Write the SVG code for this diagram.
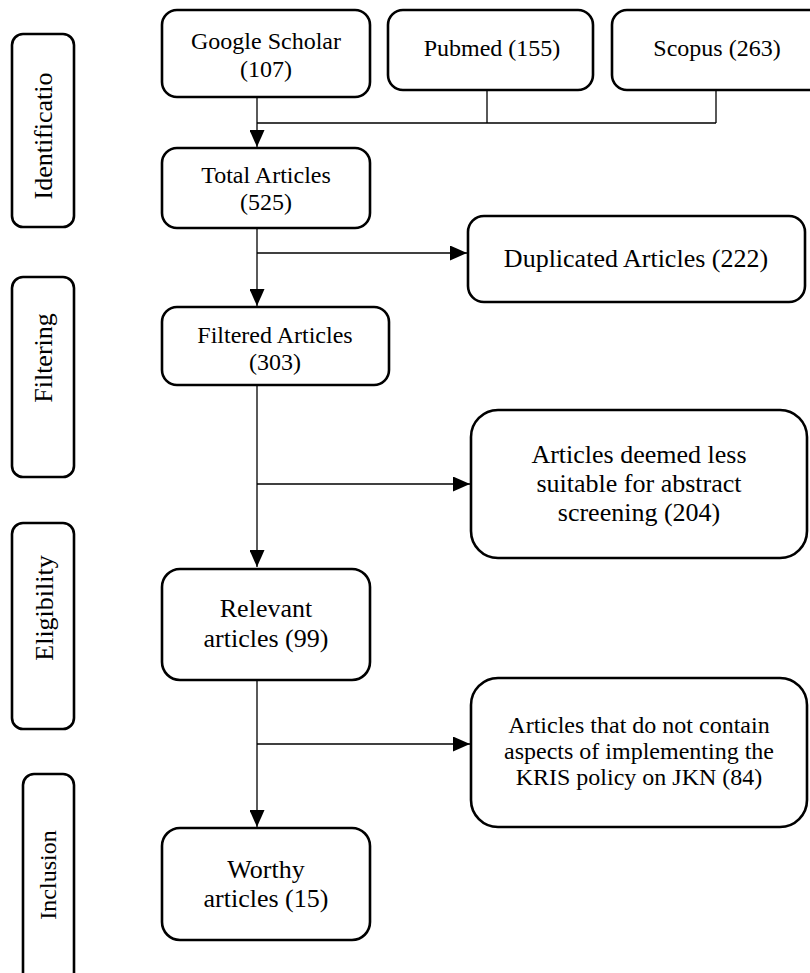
<svg xmlns="http://www.w3.org/2000/svg" width="810" height="973" viewBox="0 0 810 973">
<style>
.box{fill:#fff;stroke:#000;stroke-width:2.6}
.t{font-family:"Liberation Serif","Times New Roman",serif;fill:#000;text-anchor:middle}
.s24{font-size:24px}
.s26{font-size:26px}
.c{fill:none;stroke:#000;stroke-width:1.3}
</style>
<defs>
<marker id="ah" markerUnits="userSpaceOnUse" markerWidth="17" markerHeight="15" refX="17" refY="7.5" orient="auto">
<path d="M0,0 L17,7.5 L0,15 Z" fill="#000"/>
</marker>
</defs>
<rect width="810" height="973" fill="#fff"/>
<g id="connectors">
<path class="c" d="M257,97 V147" marker-end="url(#ah)"/>
<path class="c" d="M257,123 H716 M487,90 V123 M716,90 V123"/>
<path class="c" d="M257,228 V306" marker-end="url(#ah)"/>
<path class="c" d="M257,253 H467" marker-end="url(#ah)"/>
<path class="c" d="M257,385 V567" marker-end="url(#ah)"/>
<path class="c" d="M257,484 H470" marker-end="url(#ah)"/>
<path class="c" d="M257,680 V827" marker-end="url(#ah)"/>
<path class="c" d="M257,744 H470" marker-end="url(#ah)"/>
</g>
<g id="stage-identification">
<rect class="box" x="12" y="34" width="62" height="193" rx="11"/>
<text class="t s26" transform="translate(52,136) rotate(-90)">Identificatio</text>
</g>
<g id="stage-filtering">
<rect class="box" x="12" y="277" width="62" height="200" rx="11"/>
<text class="t s26" transform="translate(52,358) rotate(-90)">Filtering</text>
</g>
<g id="stage-eligibility">
<rect class="box" x="12" y="523" width="62" height="206" rx="11"/>
<text class="t s26" transform="translate(53,608) rotate(-90)">Eligibility</text>
</g>
<g id="stage-inclusion">
<rect class="box" x="23" y="774" width="51" height="215" rx="11"/>
<text class="t s24" transform="translate(56,875) rotate(-90)">Inclusion</text>
</g>
<g id="google-scholar">
<rect class="box" x="162" y="10" width="208" height="87" rx="15"/>
<text class="t s24" x="266" y="49">Google Scholar</text>
<text class="t s24" x="266" y="77">(107)</text>
</g>
<g id="pubmed">
<rect class="box" x="388" y="10" width="205" height="80" rx="15"/>
<text class="t s24" x="492" y="56">Pubmed (155)</text>
</g>
<g id="scopus">
<rect class="box" x="612" y="10" width="220" height="80" rx="15"/>
<text class="t s24" x="717" y="56">Scopus (263)</text>
</g>
<g id="total-articles">
<rect class="box" x="162" y="148" width="208" height="80" rx="15"/>
<text class="t s24" x="266" y="183">Total Articles</text>
<text class="t s24" x="266" y="210">(525)</text>
</g>
<g id="duplicated-articles">
<rect class="box" x="468" y="216" width="337" height="86" rx="16"/>
<text class="t s26" x="636" y="267">Duplicated Articles (222)</text>
</g>
<g id="filtered-articles">
<rect class="box" x="162" y="307" width="227" height="78" rx="15"/>
<text class="t s24" x="275" y="343">Filtered Articles</text>
<text class="t s24" x="275" y="370">(303)</text>
</g>
<g id="less-suitable">
<rect class="box" x="471" y="410" width="336" height="148" rx="27"/>
<text class="t s26" x="639" y="463">Articles deemed less</text>
<text class="t s26" x="639" y="492">suitable for abstract</text>
<text class="t s26" x="639" y="521">screening (204)</text>
</g>
<g id="relevant-articles">
<rect class="box" x="162" y="569" width="208" height="111" rx="18"/>
<text class="t s26" x="266" y="617">Relevant</text>
<text class="t s26" x="266" y="647">articles (99)</text>
</g>
<g id="kris-excluded">
<rect class="box" x="471" y="678" width="336" height="149" rx="27"/>
<text class="t s24" x="639" y="733">Articles that do not contain</text>
<text class="t s24" x="639" y="759">aspects of implementing the</text>
<text class="t s24" x="639" y="785">KRIS policy on JKN (84)</text>
</g>
<g id="worthy-articles">
<rect class="box" x="162" y="828" width="208" height="112" rx="18"/>
<text class="t s26" x="266" y="878">Worthy</text>
<text class="t s26" x="266" y="907">articles (15)</text>
</g>
</svg>
